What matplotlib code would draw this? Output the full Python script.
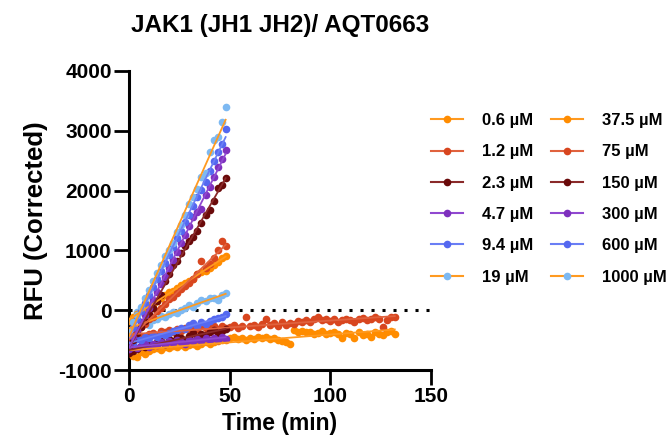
import numpy as np
import matplotlib
matplotlib.use("Agg")
import matplotlib.pyplot as plt
from matplotlib.lines import Line2D

plt.rcParams['font.family'] = ['Liberation Sans', 'DejaVu Sans']
plt.rcParams['font.weight'] = 'bold'
plt.rcParams['axes.unicode_minus'] = False

# sampling times (min)
t_long = np.arange(0, 133, 2)
t_short = np.arange(0, 49, 2)

# RFU (corrected) per AQT0663 concentration
c0_6 = [-720, -760, -780, -700, -740, -690, -650, -630, -660, -610, -640, -600, -620, -590,
        -610, -580, -570, -600, -560, -540, -570, -530, -520, -500, -490, -460, -450, -480,
        -470, -500, -460, -480, -450, -470, -440, -480, -470, -500, -520, -540, -560, -330,
        -360, -340, -370, -360, -400, -380, -350, -390, -380, -360, -390, -470, -380, -400,
        -460, -370, -420, -390, -450, -360, -400, -420, -370, -350, -390]
c1_2 = [-540, -500, -470, -430, -450, -400, -380, -410, -350, -370, -330, -360, -310, -340,
        -300, -330, -280, -310, -260, -300, -290, -270, -310, -260, -290, -280, -250, -300,
        -270, -120, -260, -240, -280, -230, -150, -250, -220, -260, -200, -240, -210, -230,
        -180, -200, -160, -190, -150, -120, -170, -140, -180, -150, -200, -170, -140, -160,
        -190, -150, -130, -170, -150, -110, -140, -280, -160, -110, -120]
c2_3 = [-720, -680, -650, -600, -620, -560, -580, -540, -510, -560, -480, -520, -450, -470,
        -500, -430, -380, -450, -390, -410, -360, -330, -380, -350, -320]
c4_7 = [-650, -620, -640, -600, -570, -610, -560, -580, -540, -560, -520, -550, -500, -530,
        -560, -490, -520, -480, -510, -460, -490, -470, -500, -450, -480]
c9_4 = [-520, -560, -480, -500, -450, -470, -420, -440, -390, -410, -380, -350, -330, -300,
        -320, -250, -220, -260, -200, -230, -180, -150, -130, -110, -60]
c19 = [-380, -300, -30, -280, -200, -240, -160, -140, -100, -120, -60, -30, -50, 10,
       40, 80, 60, 120, 170, 150, 200, 210, 170, 260, 280]
c37_5 = [-180, -120, -60, -20, 30, 80, 100, 160, 200, 250, 300, 320, 370, 420,
         460, 490, 530, 600, 640, 660, 700, 760, 800, 880, 900]
c75 = [-450, -420, -330, -280, -230, -150, -110, -20, 30, 100, 180, 220, 280, 350,
       400, 460, 520, 600, 830, 700, 780, 870, 1000, 1150, 1080]
c150 = [-600, -500, -380, -280, -180, -60, 30, 150, 260, 480, 600, 750, 830, 950,
        1080, 1150, 1220, 1330, 1450, 1600, 1680, 1830, 2050, 2100, 2210]
c300 = [-580, -450, -330, -200, -80, 40, 170, 300, 430, 560, 700, 840, 980, 1120,
        1250, 1400, 1560, 1640, 1700, 1920, 2055, 2220, 2400, 2530, 2680]
c600 = [-420, -280, -150, -20, 120, 260, 380, 520, 650, 790, 930, 1050, 1200, 1330,
        1470, 1600, 1740, 1890, 2010, 2150, 2330, 2500, 2650, 2780, 3030]
c1000 = [-350, -200, -80, 60, 200, 340, 480, 620, 760, 900, 1000, 1120, 1300, 1430,
         1600, 1770, 1900, 2030, 2220, 2300, 2640, 2850, 2890, 3155, 3405]

labels = ['0.6 µM', '1.2 µM', '2.3 µM', '4.7 µM', '9.4 µM', '19 µM',
          '37.5 µM', '75 µM', '150 µM', '300 µM', '600 µM', '1000 µM']
series = [c0_6, c1_2, c2_3, c4_7, c9_4, c19, c37_5, c75, c150, c300, c600, c1000]
times = [t_long, t_long] + [t_short] * 10

orange, red, maroon, purple, blue, lblue = '#FF8C00', '#D8461F', '#6A0A0A', '#7E30BE', '#5468F0', '#7DB9F2'
mk_colors = [orange, red, maroon, purple, blue, lblue] * 2
ln_colors = ['#FF9A20', '#E0623E', '#8A2A2A', '#9048D0', '#6A7EF5', '#FF9A20'] * 2

fig = plt.figure(figsize=(6.67, 4.47), dpi=100)
ax = fig.add_axes([129 / 667, 1 - 370 / 447, 302 / 667, 299 / 447])

ax.axhline(0, color='black', linestyle=(0, (1, 2.6)), lw=2.2, zorder=1)

handles = []
for t, y, mc, lc, lab in zip(times, series, mk_colors, ln_colors, labels):
    y = np.array(y, dtype=float)
    ax.plot(t, y, 'o', ms=5.5, color=mc, mec='none', zorder=3)
    k, b = np.polyfit(t, y, 1)
    ax.plot([t[0], t[-1]], [b + k * t[0], b + k * t[-1]], color=lc, lw=1.3, zorder=4)
    handles.append(Line2D([], [], color=lc, lw=1.5, marker='o', ms=5.5, mfc=mc, mec='none'))

ax.set_xlim(0, 150)
ax.set_ylim(-1000, 4000)
ax.set_xticks([0, 50, 100, 150])
ax.set_yticks([-1000, 0, 1000, 2000, 3000, 4000])
for s in ['top', 'right']:
    ax.spines[s].set_visible(False)
for s in ['left', 'bottom']:
    ax.spines[s].set_linewidth(2.2)
ax.tick_params(length=10.5, width=2, labelsize=15, pad=2)
for lbl in ax.get_xticklabels() + ax.get_yticklabels():
    lbl.set_fontweight('bold')

ax.set_xlabel('Time (min)', fontsize=16.5, fontweight='bold', labelpad=4)
ax.set_ylabel('RFU (Corrected)', fontsize=18.5, fontweight='bold', labelpad=7)
ax.set_title('JAK1 (JH1 JH2)/ AQT0663', fontsize=17.5, fontweight='bold', pad=28)

fig.legend(handles, labels, loc='upper left', bbox_to_anchor=(431 / 667, 1 - 113 / 447),
           ncol=2, frameon=False, prop={'size': 12, 'weight': 'bold'},
           handlelength=1.9, handletextpad=1.15, columnspacing=1.1, labelspacing=0.98,
           borderpad=0, borderaxespad=0)

fig.savefig('out.png', dpi=100)
